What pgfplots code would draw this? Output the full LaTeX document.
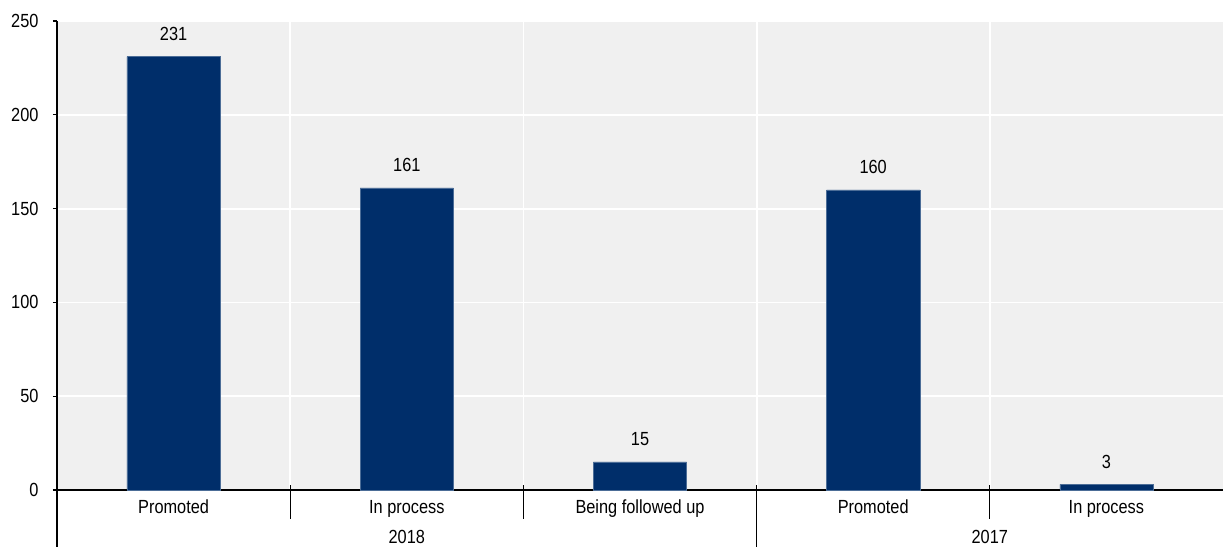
\documentclass[border=0pt]{standalone}
\usepackage{pgfplots}
\pgfplotsset{compat=1.18}
\usepackage{fontspec}
\setmainfont[FakeStretch=0.86]{Liberation Sans}
\definecolor{barblue}{RGB}{0,46,106}
\definecolor{bggray}{RGB}{240,240,240}
\begin{document}
\fontsize{19pt}{22pt}\selectfont
\begin{tikzpicture}
\begin{axis}[
  scale only axis,
  width=1166pt, height=469pt,
  xmin=-0.5, xmax=4.5,
  ymin=0, ymax=250,
  axis background/.style={fill=bggray},
  axis lines*=left,
  axis line style={black, line width=1.2pt},
  ytick={0,50,100,150,200,250},
  xtick={0,1,2,3,4},
  xticklabels={},
  major x tick style={draw=none},
  minor xtick={0.5,1.5,2.5,3.5},
  minor x tick style={draw=none},
  xminorgrids=true,
  ymajorgrids=true,
  minor grid style={white, line width=1.8pt},
  major grid style={white, line width=1.8pt},
  tick align=outside,
  major tick length=4pt,
  y tick style={black, line width=1.2pt},
  /pgf/number format/assume math mode=true,
  yticklabel style={font=\fontsize{19pt}{22pt}\selectfont, xshift=-8pt},
  every node near coord/.append style={font=\fontsize{19pt}{22pt}\selectfont, anchor=base, yshift=16pt, black},
  nodes near coords,
  clip=false,
]
\addplot[ybar, bar width=93.3pt, fill=barblue, draw=barblue!70!white, line width=0.5pt] coordinates {
  (0,231) (1,161) (2,15) (3,160) (4,3)
};
% category separators
\draw[black, line width=1.2pt] ([yshift=5pt]axis cs:0.5,0) -- ([yshift=-29pt]axis cs:0.5,0);
\draw[black, line width=1.2pt] ([yshift=5pt]axis cs:1.5,0) -- ([yshift=-29pt]axis cs:1.5,0);
\draw[black, line width=1.2pt] ([yshift=5pt]axis cs:3.5,0) -- ([yshift=-29pt]axis cs:3.5,0);
\draw[black, line width=1.2pt] ([yshift=5pt]axis cs:2.5,0) -- ([yshift=-57pt]axis cs:2.5,0);
\draw[black, line width=1.2pt] (axis cs:-0.5,0) -- ([yshift=-57pt]axis cs:-0.5,0);
% category labels
\node[anchor=base] at ([yshift=-23pt]axis cs:0,0) {Promoted};
\node[anchor=base] at ([yshift=-23pt]axis cs:1,0) {In process};
\node[anchor=base] at ([yshift=-23pt]axis cs:2,0) {Being followed up};
\node[anchor=base] at ([yshift=-23pt]axis cs:3,0) {Promoted};
\node[anchor=base] at ([yshift=-23pt]axis cs:4,0) {In process};
\node[anchor=base] at ([yshift=-53pt]axis cs:1,0) {2018};
\node[anchor=base] at ([yshift=-53pt]axis cs:3.5,0) {2017};
\end{axis}
\pgfresetboundingbox
\useasboundingbox (-57pt,-57pt) rectangle (1166pt,490pt);
\end{tikzpicture}
\end{document}
